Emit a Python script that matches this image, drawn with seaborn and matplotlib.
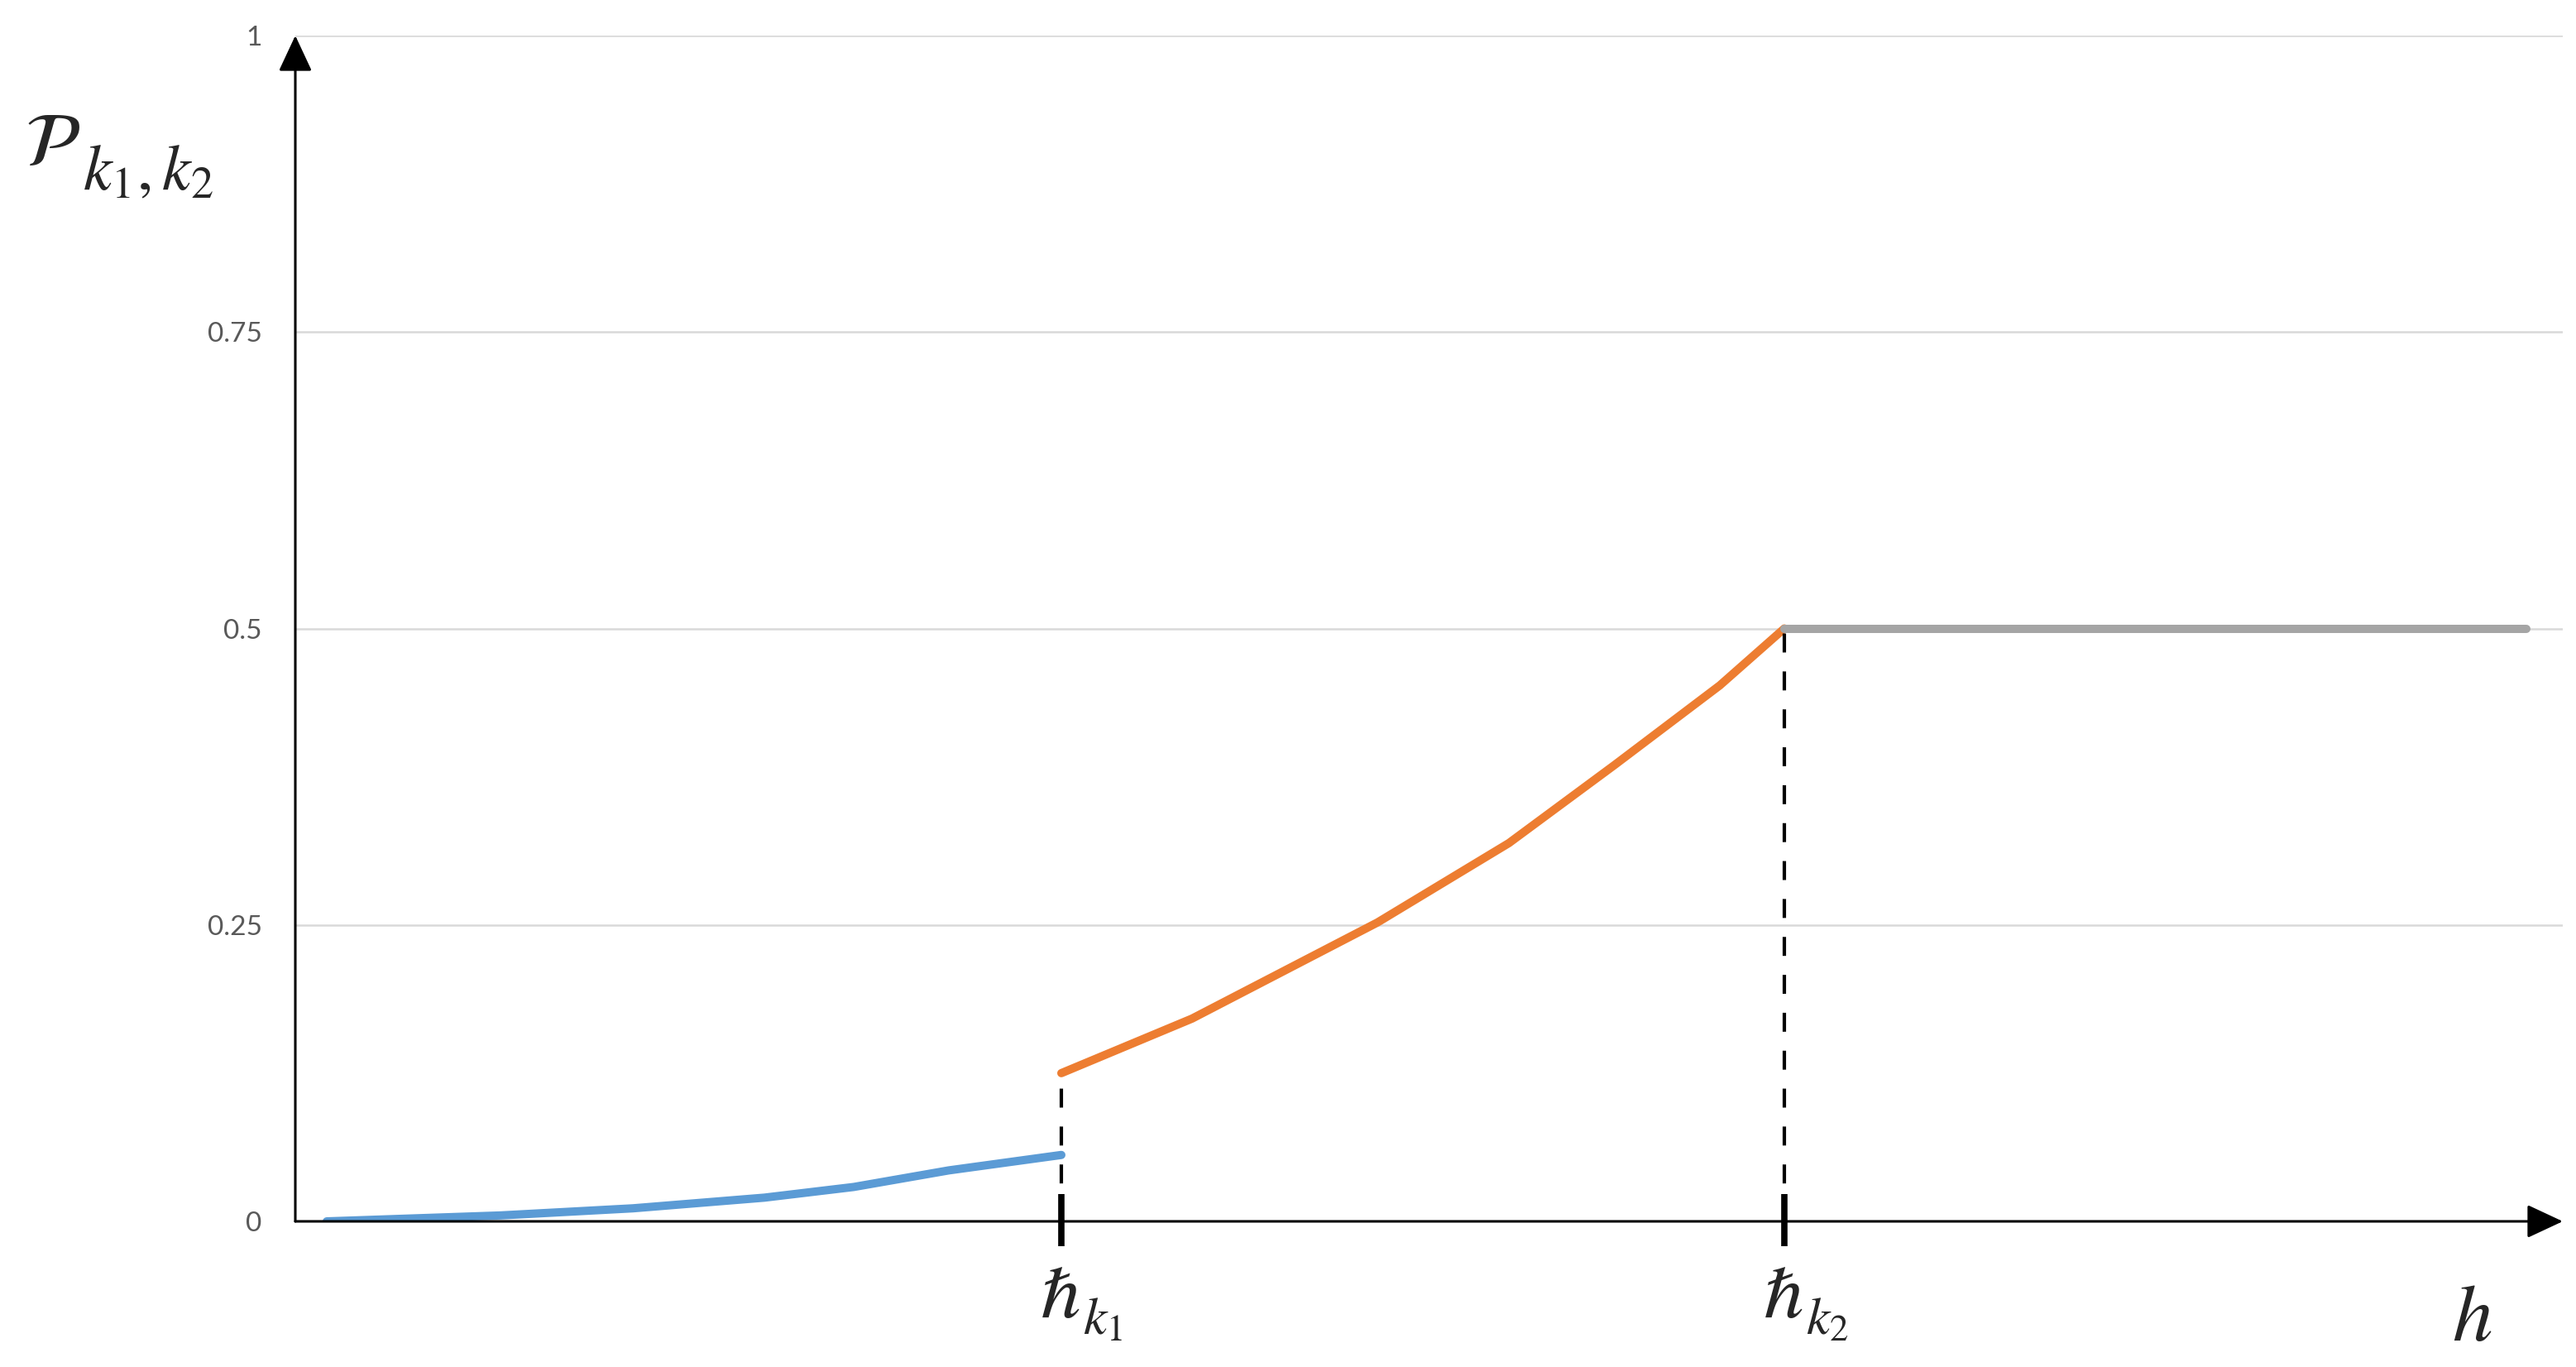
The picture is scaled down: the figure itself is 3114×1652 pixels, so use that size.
import numpy as np
import pandas as pd
import seaborn as sns
import matplotlib
matplotlib.use("Agg")
import matplotlib.pyplot as plt
from matplotlib import transforms

# values (h in arbitrary units, P in [0, 1])
h_blue = [0.38, 2.48, 4.08, 5.67, 6.75, 7.90, 9.26]
p_blue = [0.0, 0.005, 0.011, 0.020, 0.029, 0.043, 0.056]
h_orange = [9.26, 10.84, 13.08, 14.67, 15.95, 17.22, 18.0]
p_orange = [0.125, 0.171, 0.252, 0.319, 0.385, 0.452, 0.5]
h_gray = [18.0, 26.97]
p_gray = [0.5, 0.5]

h_k1, h_k2 = 9.26, 18.0
y_ticks = [0, 0.25, 0.5, 0.75, 1]
y_tick_labels = ["0", "0.25", "0.5", "0.75", "1"]

seg_colors = {"low": "#5B9BD5", "mid": "#ED7D31", "high": "#A5A5A5"}

df = pd.concat([
    pd.DataFrame({"h": h_blue, "p": p_blue, "seg": "low"}),
    pd.DataFrame({"h": h_orange, "p": p_orange, "seg": "mid"}),
    pd.DataFrame({"h": h_gray, "p": p_gray, "seg": "high"}),
], ignore_index=True)

sns.set_style("white")
plt.rcParams["mathtext.fontset"] = "stix"
plt.rcParams["font.family"] = ["Lato", "DejaVu Sans"]

fig = plt.figure(figsize=(31.14, 16.52), dpi=100)
ax = fig.add_axes([357 / 3114, 176 / 1652, 2741 / 3114, 1433 / 1652])
xmax = 27.41

# gridlines
for yv in y_ticks[1:]:
    ax.axhline(yv, color="#D9D9D9", lw=1.8, zorder=0)

# curves
sns.lineplot(data=df, x="h", y="p", hue="seg", palette=seg_colors, estimator=None,
             sort=False, legend=False, ax=ax, zorder=3)
for ln in ax.get_lines()[-3:]:
    ln.set_linewidth(7.2)
    ln.set_solid_capstyle("round")

# dashed drop lines
ax.plot([h_k1, h_k1], [0, p_orange[0]], color="black", lw=3, ls=(0, (5.5, 5.5)), zorder=4)
ax.plot([h_k2, h_k2], [0, p_orange[-1]], color="black", lw=3, ls=(0, (5.5, 5.5)), zorder=4)

# thick tick marks on the h axis
for hk in (h_k1, h_k2):
    ax.plot([hk, hk], [-0.021, 0.023], color="black", lw=5.5, clip_on=False, zorder=5,
            solid_capstyle="butt")

# axes with arrow heads
for s in ax.spines.values():
    s.set_visible(False)
arrow_kw = dict(arrowstyle="-|>,head_length=0.6,head_width=0.28", color="black",
                lw=2.2, mutation_scale=45, shrinkA=0, shrinkB=0)
ax.annotate("", xy=(0, 1.0), xytext=(0, 0), arrowprops=arrow_kw, annotation_clip=False)
ax.annotate("", xy=(xmax, 0), xytext=(0, 0), arrowprops=arrow_kw, annotation_clip=False)

ax.set_xlim(0, xmax)
ax.set_ylim(0, 1)
ax.set_xticks([])
ax.set_yticks(y_ticks)
ax.set_yticklabels(y_tick_labels, color="#595959", fontsize=24)
ax.tick_params(axis="y", length=0, pad=29)
ax.set_xlabel("")
ax.set_ylabel("")

# h_k labels under the axis: big hbar with a large subscript
for hk, sub in ((h_k1, r"$k_1$"), (h_k2, r"$k_2$")):
    base = transforms.offset_copy(ax.transData, fig=fig, x=-28 / 100 * 72, y=-116 / 100 * 72,
                                  units="points")
    ax.text(hk, 0, r"$\hslash$", transform=base, fontsize=64, ha="left", va="baseline",
            clip_on=False)
    sub_tr = transforms.offset_copy(ax.transData, fig=fig, x=26 / 100 * 72,
                                    y=-137 / 100 * 72, units="points")
    ax.text(hk, 0, sub, transform=sub_tr, fontsize=46, ha="left", va="baseline",
            clip_on=False)

# axis names
fig.text(30 / 3114, 1 - 200 / 1652, r"$\mathcal{P}$", fontsize=66, ha="left", va="baseline")
fig.text(100 / 3114, 1 - 228 / 1652, r"$k_1,k_2$", fontsize=56, ha="left", va="baseline")
fig.text(2988 / 3114, 1 - 1620 / 1652, r"$h$", fontsize=70, ha="center", va="baseline")

fig.savefig("out.png", dpi=100, facecolor="white")
